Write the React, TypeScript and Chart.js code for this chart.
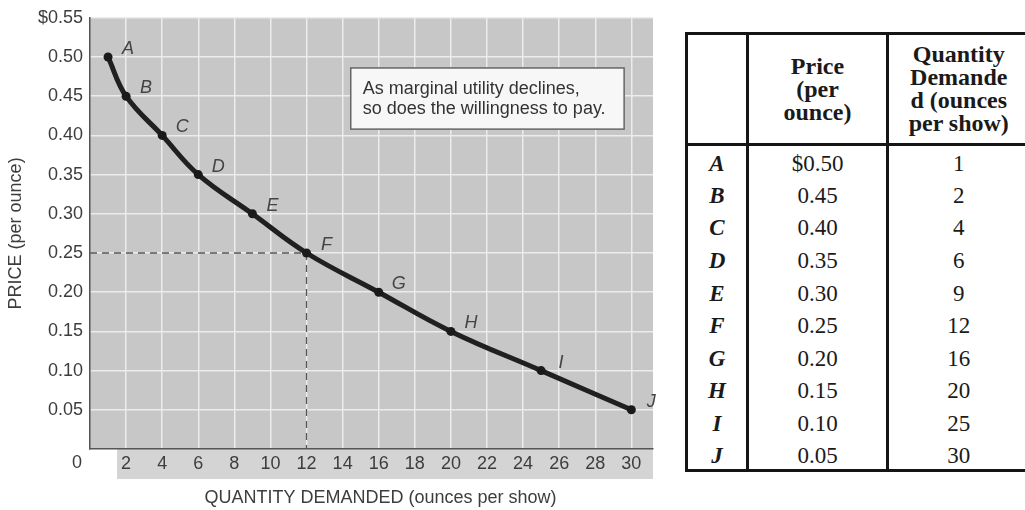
import React, { useEffect, useRef } from "react";
import { Chart, registerables } from "chart.js";

Chart.register(...registerables);

// ---- data ----
const pointLabels = ["A", "B", "C", "D", "E", "F", "G", "H", "I", "J"];
const prices = [0.5, 0.45, 0.4, 0.35, 0.3, 0.25, 0.2, 0.15, 0.1, 0.05];
const quantities = [1, 2, 4, 6, 9, 12, 16, 20, 25, 30];
const priceText = ["$0.50", "0.45", "0.40", "0.35", "0.30", "0.25", "0.20", "0.15", "0.10", "0.05"];
const xTickValues = [2, 4, 6, 8, 10, 12, 14, 16, 18, 20, 22, 24, 26, 28, 30];
const yTickValues = [0.05, 0.1, 0.15, 0.2, 0.25, 0.3, 0.35, 0.4, 0.45, 0.5, 0.55];
const yTickLabels = ["0.05", "0.10", "0.15", "0.20", "0.25", "0.30", "0.35", "0.40", "0.45", "0.50", "$0.55"];
const xAxisTitle = "QUANTITY DEMANDED (ounces per show)";
const yAxisTitle = "PRICE (per ounce)";
const noteLines = ["As marginal utility declines,", "so does the willingness to pay."];
const highlightIndex = 5; // point F
const priceHeader = ["Price", "(per", "ounce)"];
const quantityHeader = ["Quantity", "Demande", "d (ounces", "per show)"];

const SANS = "'Liberation Sans', Arial, Helvetica, sans-serif";
const SERIF = "'Liberation Serif', 'Times New Roman', Times, serif";
const TEXT = "#3d3d3d";

const decorPlugin = {
  id: "decor",
  beforeDraw(chart: any) {
    const { ctx, chartArea: a, scales } = chart;
    const x = scales.x;
    ctx.save();
    ctx.fillStyle = "#c7c7c7";
    ctx.fillRect(a.left, a.top, a.right - a.left, a.bottom - a.top);
    const bx = x.getPixelForValue(1.5);
    ctx.fillStyle = "#d4d4d4";
    ctx.fillRect(bx, a.bottom, a.right - bx, 30);
    ctx.restore();
  },
  beforeDatasetsDraw(chart: any) {
    const { ctx, chartArea: a, scales } = chart;
    const x = scales.x;
    const y = scales.y;
    ctx.save();
    // dashed guide lines from point F
    const fx = x.getPixelForValue(quantities[highlightIndex]);
    const fy = y.getPixelForValue(prices[highlightIndex]);
    ctx.strokeStyle = "#555";
    ctx.lineWidth = 1.3;
    ctx.setLineDash([7, 5]);
    ctx.beginPath();
    ctx.moveTo(a.left, fy);
    ctx.lineTo(fx, fy);
    ctx.moveTo(fx, fy);
    ctx.lineTo(fx, a.bottom);
    ctx.stroke();
    ctx.setLineDash([]);
    // note box
    const l = x.getPixelForValue(14.45);
    const r = x.getPixelForValue(29.6);
    const t = y.getPixelForValue(0.486);
    const b = y.getPixelForValue(0.408);
    ctx.fillStyle = "#f7f7f7";
    ctx.fillRect(l, t, r - l, b - t);
    ctx.strokeStyle = "#666";
    ctx.lineWidth = 1.5;
    ctx.strokeRect(l, t, r - l, b - t);
    ctx.fillStyle = "#333";
    ctx.font = `18px ${SANS}`;
    ctx.textAlign = "left";
    ctx.textBaseline = "middle";
    const mid = (t + b) / 2;
    ctx.fillText(noteLines[0], l + 12, mid - 10);
    ctx.fillText(noteLines[1], l + 12, mid + 10);
    ctx.restore();
  },
  afterDatasetsDraw(chart: any) {
    const { ctx, scales } = chart;
    const x = scales.x;
    const y = scales.y;
    ctx.save();
    ctx.fillStyle = "#444";
    ctx.font = `italic 18px ${SANS}`;
    ctx.textAlign = "center";
    ctx.textBaseline = "middle";
    pointLabels.forEach((lab, i) => {
      const px = x.getPixelForValue(quantities[i]);
      const py = y.getPixelForValue(prices[i]);
      ctx.fillText(lab, px + 20, py - 8);
    });
    ctx.restore();
  },
  afterDraw(chart: any) {
    const { ctx, chartArea: a } = chart;
    ctx.save();
    ctx.fillStyle = TEXT;
    ctx.font = `18px ${SANS}`;
    ctx.textAlign = "center";
    ctx.textBaseline = "middle";
    ctx.fillText("0", a.left - 13, a.bottom + 14);
    ctx.fillText(xAxisTitle, (a.left + a.right) / 2 + 9, a.bottom + 49);
    ctx.restore();
  },
};

function ChartPanel() {
  const ref = useRef<HTMLCanvasElement | null>(null);
  useEffect(() => {
    if (!ref.current) return;
    const chart = new Chart(ref.current, {
      type: "line",
      data: {
        datasets: [
          {
            data: quantities.map((q, i) => ({ x: q, y: prices[i] })),
            borderColor: "#202020",
            backgroundColor: "#202020",
            borderWidth: 5,
            pointRadius: 4.5,
            pointBackgroundColor: "#1a1a1a",
            pointBorderWidth: 0,
            tension: 0.4,
            fill: false,
          },
        ],
      },
      options: {
        animation: false,
        responsive: false,
        devicePixelRatio: 1,
        layout: { padding: { top: 12, right: 17, left: 0, bottom: 0 } },
        plugins: { legend: { display: false }, tooltip: { enabled: false } },
        scales: {
          x: {
            type: "linear",
            min: 0,
            max: 31.2,
            afterFit: (s: any) => {
              s.height = 61;
            },
            afterBuildTicks: (s: any) => {
              s.ticks = xTickValues.map((v) => ({ value: v }));
            },
            ticks: {
              padding: 4,
              color: TEXT,
              font: { family: SANS, size: 18 },
              maxRotation: 0,
              autoSkip: false,
              callback: (v: any) => String(v),
            },
            grid: { color: "#ececec", lineWidth: 1.5, drawTicks: false },
            border: { display: true, color: "#555", width: 1.5 },
          },
          y: {
            type: "linear",
            min: 0,
            max: 0.55,
            afterFit: (s: any) => {
              s.width = 90;
            },
            afterBuildTicks: (s: any) => {
              s.ticks = yTickValues.map((v) => ({ value: v }));
            },
            ticks: {
              padding: 7,
              color: TEXT,
              font: { family: SANS, size: 18 },
              autoSkip: false,
              callback: (v: any) => {
                const i = yTickValues.findIndex((t) => Math.abs(t - v) < 1e-6);
                return i >= 0 ? yTickLabels[i] : "";
              },
            },
            grid: { color: "#ececec", lineWidth: 1.5, drawTicks: false },
            border: { display: true, color: "#555", width: 1.5 },
            title: {
              display: true,
              text: yAxisTitle,
              color: TEXT,
              font: { family: SANS, size: 18 },
              padding: { top: 5, bottom: 0 },
            },
          },
        },
      },
      plugins: [decorPlugin],
    } as any);
    return () => chart.destroy();
  }, []);
  return (
    <canvas
      ref={ref}
      width={670}
      height={510}
      style={{ position: "absolute", left: 0, top: 0, width: 670, height: 510, display: "block" }}
    />
  );
}

const cellBorder = "3px solid #151515";

function DataTable() {
  const th: React.CSSProperties = {
    borderLeft: cellBorder,
    borderRight: cellBorder,
    borderBottom: cellBorder,
    fontWeight: "bold",
    fontSize: 24,
    lineHeight: "23px",
    textAlign: "center",
    verticalAlign: "middle",
    padding: 0,
  };
  const td: React.CSSProperties = {
    borderLeft: cellBorder,
    borderRight: cellBorder,
    fontSize: 23,
    lineHeight: "26px",
    textAlign: "center",
    verticalAlign: "middle",
    padding: "5px 0 0 0",
  };
  const lastCol: React.CSSProperties = { paddingRight: 20, borderRight: "none" };
  return (
    <div style={{ position: "absolute", left: 685, top: 32, width: 420 }}>
      <table
        style={{
          borderCollapse: "collapse",
          borderTop: cellBorder,
          borderBottom: cellBorder,
          borderLeft: cellBorder,
          borderRight: "none",
          fontFamily: SERIF,
          color: "#1a1a1a",
          tableLayout: "fixed",
          width: 362,
        }}
      >
        <colgroup>
          <col style={{ width: 61 }} />
          <col style={{ width: 140 }} />
          <col style={{ width: 161 }} />
        </colgroup>
        <thead>
          <tr style={{ height: 111 }}>
            <th style={th}></th>
            <th style={th}>
              {priceHeader.map((s, i) => (
                <div key={i}>{s}</div>
              ))}
            </th>
            <th style={{ ...th, ...lastCol }}>
              {quantityHeader.map((s, i) => (
                <div key={i}>{s}</div>
              ))}
            </th>
          </tr>
        </thead>
        <tbody>
          {pointLabels.map((lab, i) => (
            <tr key={lab} style={{ height: 32.6 }}>
              <td style={{ ...td, fontWeight: "bold", fontStyle: "italic" }}>{lab}</td>
              <td style={td}>{priceText[i]}</td>
              <td style={{ ...td, ...lastCol }}>{quantities[i]}</td>
            </tr>
          ))}
        </tbody>
      </table>
    </div>
  );
}

export default function App() {
  return (
    <div
      style={{
        position: "fixed",
        left: 0,
        top: 0,
        width: 1025,
        height: 510,
        overflow: "hidden",
        background: "#fff",
      }}
    >
      <ChartPanel />
      <DataTable />
    </div>
  );
}
